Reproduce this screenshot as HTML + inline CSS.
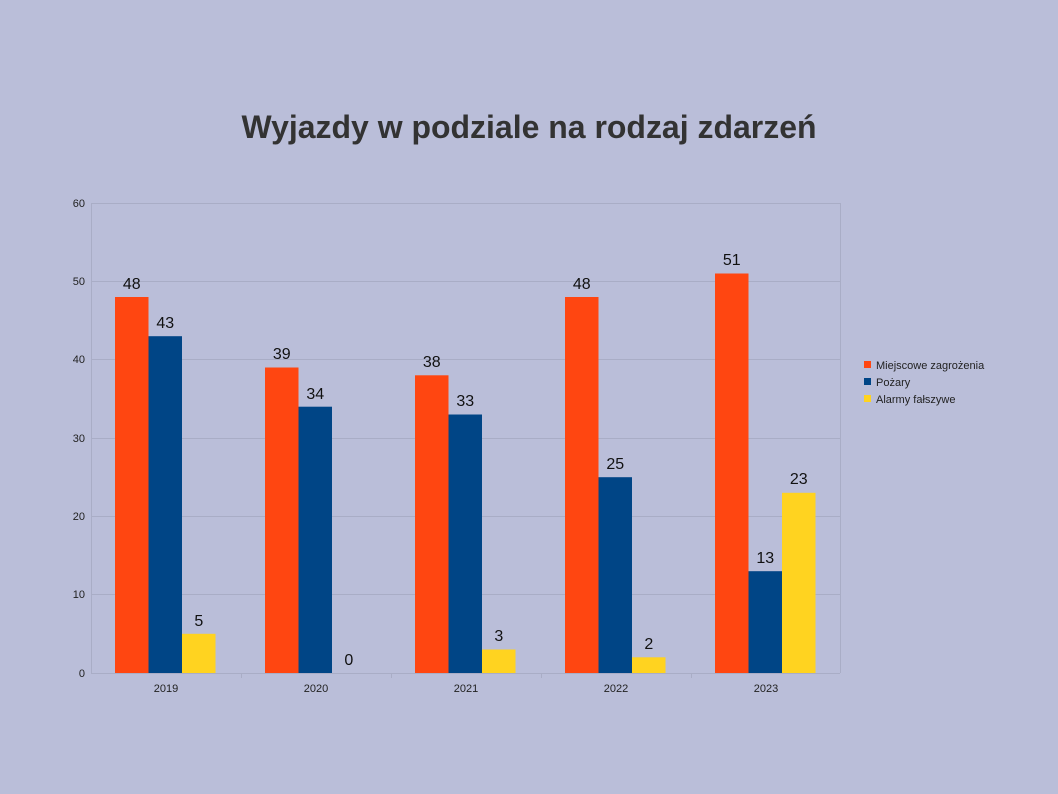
<!DOCTYPE html>
<html><head><meta charset="utf-8"><style>html,body{margin:0;padding:0;background:#BABED9;}svg{display:block}</style></head>
<body>
<svg width="1058" height="794" viewBox="0 0 1058 794" xmlns="http://www.w3.org/2000/svg" font-family="'Liberation Sans', 'DejaVu Sans', sans-serif">
<rect width="1058" height="794" fill="#BABED9"/>
<text x="529" y="138" text-anchor="middle" font-size="32" font-weight="bold" fill="#333333" textLength="575" lengthAdjust="spacingAndGlyphs">Wyjazdy w podziale na rodzaj zdarzeń</text>
<g stroke="#A9ADC6" stroke-width="1">
<line x1="91" y1="203.5" x2="840" y2="203.5"/>
<line x1="91" y1="281.5" x2="840" y2="281.5"/>
<line x1="91" y1="359.5" x2="840" y2="359.5"/>
<line x1="91" y1="438.5" x2="840" y2="438.5"/>
<line x1="91" y1="516.5" x2="840" y2="516.5"/>
<line x1="91" y1="594.5" x2="840" y2="594.5"/>
<line x1="91" y1="673.5" x2="840" y2="673.5"/>
<line x1="91.5" y1="203" x2="91.5" y2="673"/>
<line x1="840.5" y1="203" x2="840.5" y2="673"/>
<line x1="241.5" y1="673" x2="241.5" y2="678"/>
<line x1="391.5" y1="673" x2="391.5" y2="678"/>
<line x1="541.5" y1="673" x2="541.5" y2="678"/>
<line x1="691.5" y1="673" x2="691.5" y2="678"/>
</g>
<g font-size="11" fill="#222" text-anchor="end">
<text x="85" y="207">60</text><text x="85" y="285">50</text><text x="85" y="363">40</text><text x="85" y="442">30</text><text x="85" y="520">20</text><text x="85" y="598">10</text><text x="85" y="677">0</text>
</g>
<g font-size="11" fill="#222" text-anchor="middle">
<text x="166" y="692">2019</text><text x="316" y="692">2020</text><text x="466" y="692">2021</text><text x="616" y="692">2022</text><text x="766" y="692">2023</text>
</g>
<g>
<rect x="115" y="297" width="33.5" height="376" fill="#FF4611"/>
<rect x="148.5" y="336.2" width="33.5" height="336.8" fill="#004586"/>
<rect x="182" y="633.8" width="33.5" height="39.2" fill="#FFD320"/>
<rect x="265" y="367.5" width="33.5" height="305.5" fill="#FF4611"/>
<rect x="298.5" y="406.7" width="33.5" height="266.3" fill="#004586"/>
<rect x="415" y="375.3" width="33.5" height="297.7" fill="#FF4611"/>
<rect x="448.5" y="414.5" width="33.5" height="258.5" fill="#004586"/>
<rect x="482" y="649.5" width="33.5" height="23.5" fill="#FFD320"/>
<rect x="565" y="297" width="33.5" height="376" fill="#FF4611"/>
<rect x="598.5" y="477.2" width="33.5" height="195.8" fill="#004586"/>
<rect x="632" y="657.3" width="33.5" height="15.7" fill="#FFD320"/>
<rect x="715" y="273.5" width="33.5" height="399.5" fill="#FF4611"/>
<rect x="748.5" y="571.2" width="33.5" height="101.8" fill="#004586"/>
<rect x="782" y="492.8" width="33.5" height="180.2" fill="#FFD320"/>
</g>
<g font-size="16" fill="#111" text-anchor="middle">
<text x="131.8" y="289">48</text><text x="165.3" y="328">43</text><text x="198.8" y="626">5</text>
<text x="281.8" y="359">39</text><text x="315.3" y="399">34</text><text x="348.8" y="665">0</text>
<text x="431.8" y="367">38</text><text x="465.3" y="406">33</text><text x="498.8" y="641">3</text>
<text x="581.8" y="289">48</text><text x="615.3" y="469">25</text><text x="648.8" y="649">2</text>
<text x="731.8" y="265">51</text><text x="765.3" y="563">13</text><text x="798.8" y="484">23</text>
</g>
<rect x="864" y="361" width="7" height="7" fill="#FF4611"/>
<rect x="864" y="378" width="7" height="7" fill="#004586"/>
<rect x="864" y="395" width="7" height="7" fill="#FFD320"/>
<g font-size="11" fill="#222">
<text x="876" y="369">Miejscowe zagrożenia</text>
<text x="876" y="386">Pożary</text>
<text x="876" y="403">Alarmy fałszywe</text>
</g>
</svg>
</body></html>
